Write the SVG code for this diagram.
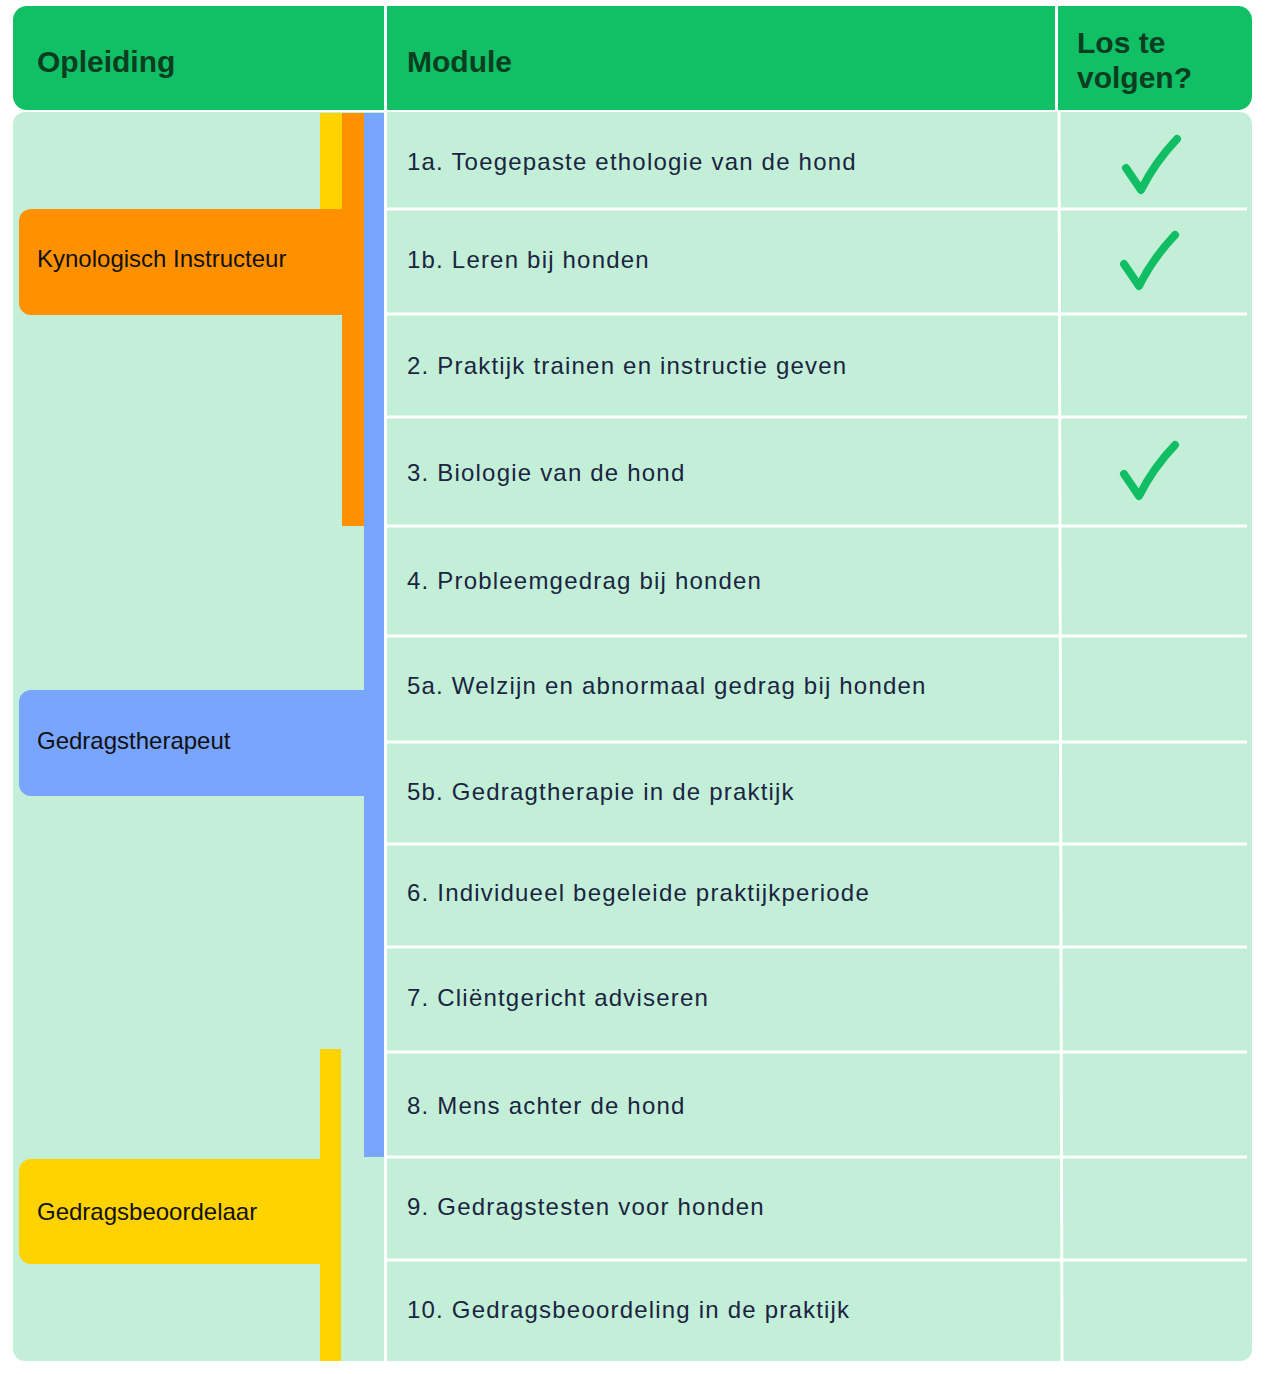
<svg xmlns="http://www.w3.org/2000/svg" width="1268" height="1374" viewBox="0 0 1268 1374">
<style>
.h{font-family:"Liberation Sans",Arial,sans-serif;font-weight:bold;font-size:30px;fill:#0B3D20}
.m{font-family:"Liberation Sans",Arial,sans-serif;font-size:24px;fill:#1B2440;letter-spacing:1.2px}
.o{font-family:"Liberation Sans",Arial,sans-serif;font-size:24px;fill:#111}
.rl{stroke:#fff;stroke-width:3}
.ck{fill:none;stroke:#12BE64;stroke-width:8;stroke-linecap:round;stroke-linejoin:round}
</style>
<rect width="1268" height="1374" fill="#fff"/>
<g id="header">
<rect x="13" y="6" width="1239" height="104" rx="14" fill="#11BF65"/>
<line x1="385.5" y1="6" x2="385.5" y2="110" class="rl"/>
<line x1="1056.5" y1="6" x2="1056.5" y2="110" class="rl"/>
<text x="37" y="72" class="h">Opleiding</text>
<text x="407" y="72" class="h">Module</text>
<text x="1077" y="53" class="h" font-size="28">Los te</text>
<text x="1077" y="88" class="h" font-size="28">volgen?</text>
</g>
<g id="body">
<rect x="13" y="112" width="1239" height="1249" rx="12" fill="#C3EFD8"/>
<line x1="385.5" y1="112" x2="385.5" y2="1361" class="rl"/>
<line x1="1059" y1="112" x2="1062" y2="1361" class="rl"/>
<g class="rl">
<line x1="387" y1="209" x2="1247" y2="209"/><line x1="387" y1="314" x2="1247" y2="314"/>
<line x1="387" y1="417" x2="1247" y2="417"/><line x1="387" y1="526" x2="1247" y2="526"/>
<line x1="387" y1="636" x2="1247" y2="636"/><line x1="387" y1="742" x2="1247" y2="742"/>
<line x1="387" y1="844" x2="1247" y2="844"/><line x1="387" y1="947" x2="1247" y2="947"/>
<line x1="387" y1="1052" x2="1247" y2="1052"/><line x1="387" y1="1157" x2="1247" y2="1157"/>
<line x1="387" y1="1260" x2="1247" y2="1260"/>
</g>
</g>
<g id="modules">
<text x="407" y="170" class="m">1a. Toegepaste ethologie van de hond</text>
<text x="407" y="268" class="m">1b. Leren bij honden</text>
<text x="407" y="374" class="m">2. Praktijk trainen en instructie geven</text>
<text x="407" y="481" class="m">3. Biologie van de hond</text>
<text x="407" y="589" class="m">4. Probleemgedrag bij honden</text>
<text x="407" y="694" class="m">5a. Welzijn en abnormaal gedrag bij honden</text>
<text x="407" y="800" class="m">5b. Gedragtherapie in de praktijk</text>
<text x="407" y="901" class="m">6. Individueel begeleide praktijkperiode</text>
<text x="407" y="1006" class="m">7. Cliëntgericht adviseren</text>
<text x="407" y="1114" class="m">8. Mens achter de hond</text>
<text x="407" y="1215" class="m">9. Gedragstesten voor honden</text>
<text x="407" y="1318" class="m">10. Gedragsbeoordeling in de praktijk</text>
</g>
<g id="checks">
<path class="ck" d="M1126,168 L1141,190 Q1155,162 1177,139"/>
<path class="ck" d="M1124,264 L1139,286 Q1153,258 1175,235"/>
<path class="ck" d="M1124,474 L1139,496 Q1153,468 1175,445"/>
</g>
<g id="kynologisch">
<rect x="320" y="113" width="22" height="96" fill="#FFD300"/>
<rect x="342" y="113" width="22" height="413" fill="#FF9100"/>
<path d="M31,209 H364 V315 H31 A12,12 0 0 1 19,303 V221 A12,12 0 0 1 31,209 Z" fill="#FF9100"/>
<text x="37" y="267" class="o">Kynologisch Instructeur</text>
</g>
<g id="gedragstherapeut">
<rect x="364" y="113" width="20" height="1044" fill="#78A5FF"/>
<path d="M31,690 H384 V796 H31 A12,12 0 0 1 19,784 V702 A12,12 0 0 1 31,690 Z" fill="#78A5FF"/>
<text x="37" y="749" class="o">Gedragstherapeut</text>
</g>
<g id="gedragsbeoordelaar">
<rect x="320" y="1049" width="21" height="312" fill="#FFD300"/>
<path d="M31,1159 H341 V1264 H31 A12,12 0 0 1 19,1252 V1171 A12,12 0 0 1 31,1159 Z" fill="#FFD300"/>
<text x="37" y="1220" class="o">Gedragsbeoordelaar</text>
</g>
</svg>
